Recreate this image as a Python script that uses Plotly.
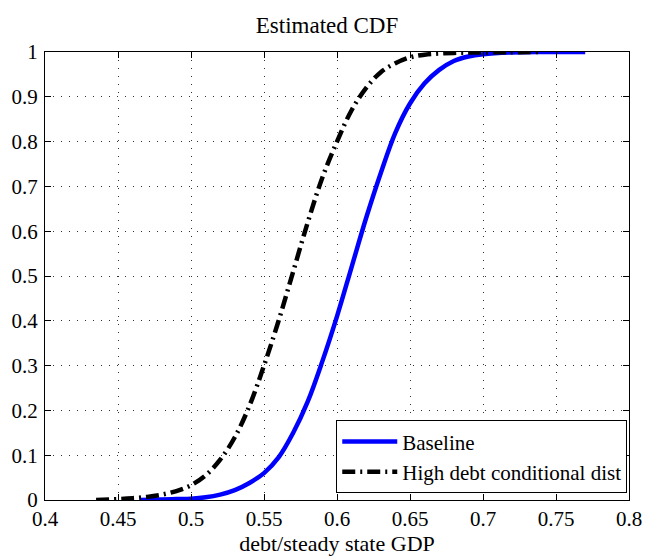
import plotly.graph_objects as go

# Baseline CDF
base_x = [0.465, 0.48, 0.49, 0.50, 0.51, 0.52, 0.53, 0.54, 0.55, 0.56, 0.57, 0.58, 0.59,
          0.60, 0.61, 0.62, 0.63, 0.64, 0.65, 0.66, 0.67, 0.68, 0.69, 0.70, 0.72, 0.74, 0.77]
base_y = [0.0, 0.001, 0.002, 0.003, 0.006, 0.012, 0.022, 0.038, 0.06, 0.095, 0.15, 0.22, 0.31,
          0.41, 0.52, 0.63, 0.73, 0.82, 0.885, 0.93, 0.96, 0.98, 0.99, 0.995, 0.999, 1.0, 1.0]

# High debt conditional distribution CDF
high_x = [0.435, 0.45, 0.46, 0.47, 0.48, 0.49, 0.50, 0.51, 0.52, 0.53, 0.54, 0.55, 0.56,
          0.57, 0.58, 0.59, 0.60, 0.61, 0.62, 0.63, 0.64, 0.65, 0.66, 0.68, 0.70, 0.74]
high_y = [0.0, 0.002, 0.004, 0.007, 0.012, 0.02, 0.033, 0.055, 0.09, 0.14, 0.21, 0.30, 0.40,
          0.51, 0.62, 0.72, 0.80, 0.87, 0.92, 0.955, 0.975, 0.988, 0.994, 0.998, 0.999, 1.0]

x_ticks = [0.4, 0.45, 0.5, 0.55, 0.6, 0.65, 0.7, 0.75, 0.8]
x_tick_labels = ["0.4", "0.45", "0.5", "0.55", "0.6", "0.65", "0.7", "0.75", "0.8"]
y_ticks = [0, 0.1, 0.2, 0.3, 0.4, 0.5, 0.6, 0.7, 0.8, 0.9, 1]
y_tick_labels = ["0", "0.1", "0.2", "0.3", "0.4", "0.5", "0.6", "0.7", "0.8", "0.9", "1"]

FONT = "Liberation Serif, 'Times New Roman', Times, serif"

fig = go.Figure()
fig.add_trace(go.Scatter(x=base_x, y=base_y, mode="lines", name="Baseline",
                         line=dict(color="#0000ff", width=4.5, shape="spline")))
fig.add_trace(go.Scatter(x=high_x, y=high_y, mode="lines", name="High debt conditional dist",
                         line=dict(color="black", width=4.5, dash="13px,5px,2px,5px", shape="spline")))

axis_common = dict(showline=True, linecolor="black", linewidth=1, mirror="ticks",
                   ticks="inside", ticklen=6, tickcolor="black",
                   showgrid=True, gridcolor="#333333", griddash="1px,7px", gridwidth=1,
                   zeroline=False, tickfont=dict(family=FONT, size=21, color="black"))

fig.update_xaxes(range=[0.4, 0.8], tickvals=x_ticks, ticktext=x_tick_labels, ticklabelstandoff=0,
                 title=dict(text="debt/steady state GDP", font=dict(family=FONT, size=22, color="black"), standoff=0),
                 **axis_common)
fig.update_yaxes(range=[0, 1], tickvals=y_ticks, ticktext=y_tick_labels, ticklabelstandoff=2, **axis_common)

fig.update_layout(
    width=654, height=559,
    margin=dict(l=45, r=16, t=52, b=55),
    paper_bgcolor="white", plot_bgcolor="white",
    title=dict(text="Estimated CDF", x=0.5, xanchor="center", y=1 - 25/559, yanchor="middle",
               font=dict(family=FONT, size=23, color="black")),
    legend=dict(x=0.997, y=0.015, xanchor="right", yanchor="bottom",
                bordercolor="black", borderwidth=1, bgcolor="white", itemwidth=55,
                font=dict(family=FONT, size=21, color="black"), tracegroupgap=0),
    showlegend=True,
)

fig.write_html("out.html")
